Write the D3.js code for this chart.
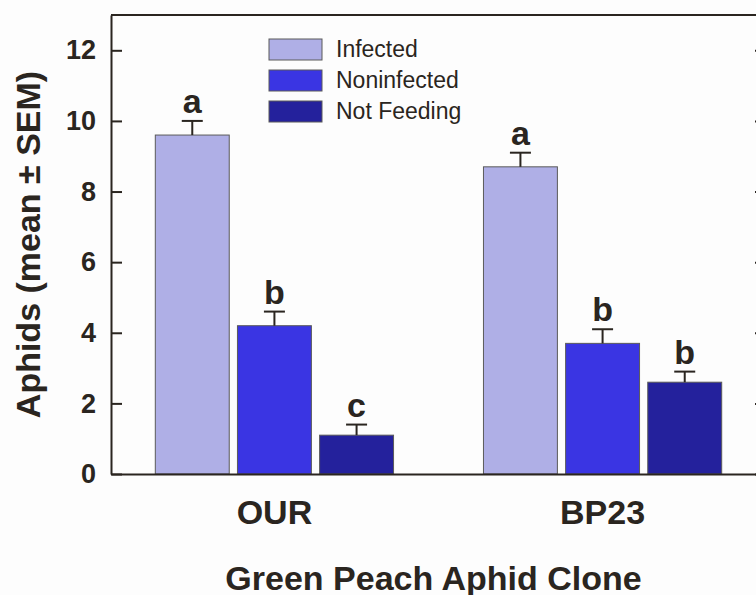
<!DOCTYPE html>
<html>
<head>
<meta charset="utf-8">
<script src="https://cdn.jsdelivr.net/npm/d3@7"></script>
<style>
  body { margin: 0; background: #fdfdfd; }
  svg { display: block; font-family: Arial, "Liberation Sans", sans-serif; }
</style>
</head>
<body>
<div id="chart"></div>
<script>
// data
var clones = ["OUR", "BP23"];
var series = ["Infected", "Noninfected", "Not Feeding"];
var infectedMean = [9.6, 8.7];
var noninfectedMean = [4.2, 3.7];
var notFeedingMean = [1.1, 2.6];
var infectedSem = [0.4, 0.4];
var noninfectedSem = [0.4, 0.4];
var notFeedingSem = [0.3, 0.3];
var infectedLetters = ["a", "a"];
var noninfectedLetters = ["b", "b"];
var notFeedingLetters = ["c", "b"];
var yTicks = [0, 2, 4, 6, 8, 10, 12];

var colors = ["#afafe6", "#3a35e3", "#24219c"];
var ink = "#2a2520";

var svgWidth = 756, svgHeight = 595;
var margin = { top: 15, right: -10, bottom: 121, left: 111 };
var width = svgWidth - margin.left - margin.right;
var height = svgHeight - margin.top - margin.bottom;

var svg = d3.select("#chart").append("svg")
  .attr("width", svgWidth)
  .attr("height", svgHeight);

var g = svg.append("g")
  .attr("transform", `translate(${margin.left}, ${margin.top})`);

// build rows from the arrays
var means = [infectedMean, noninfectedMean, notFeedingMean];
var sems = [infectedSem, noninfectedSem, notFeedingSem];
var letters = [infectedLetters, noninfectedLetters, notFeedingLetters];
var rows = [];
clones.forEach(function(c, ci) {
  series.forEach(function(s, si) {
    rows.push({ clone: c, series: s, si: si, mean: means[si][ci], sem: sems[si][ci], letter: letters[si][ci] });
  });
});

var x0 = d3.scaleBand().domain(clones).range([0, width]).paddingInner(0.274).paddingOuter(0.135);
var x1 = d3.scaleBand().domain(series).range([0, x0.bandwidth()]).paddingInner(0.1).paddingOuter(0);
var y = d3.scaleLinear().domain([0, 13]).range([height, 0]);

// bars
var bars = g.selectAll("g.bar").data(rows).enter().append("g")
  .attr("transform", d => `translate(${x0(d.clone) + x1(d.series)}, 0)`);

bars.append("rect")
  .attr("x", 0)
  .attr("y", d => y(d.mean))
  .attr("width", x1.bandwidth())
  .attr("height", d => y(0) - y(d.mean))
  .attr("fill", d => colors[d.si])
  .attr("stroke", "#5a5a5a")
  .attr("stroke-width", 1);

// error bars (upper only)
var bw = x1.bandwidth();
bars.append("line")
  .attr("x1", bw / 2).attr("x2", bw / 2)
  .attr("y1", d => y(d.mean)).attr("y2", d => y(d.mean + d.sem))
  .attr("stroke", ink).attr("stroke-width", 2);
bars.append("line")
  .attr("x1", bw / 2 - 10.5).attr("x2", bw / 2 + 10.5)
  .attr("y1", d => y(d.mean + d.sem)).attr("y2", d => y(d.mean + d.sem))
  .attr("stroke", ink).attr("stroke-width", 2);

bars.append("text")
  .attr("x", bw / 2)
  .attr("y", d => y(d.mean + d.sem) - 8)
  .attr("text-anchor", "middle")
  .style("font-size", "34px")
  .style("font-weight", "bold")
  .attr("fill", ink)
  .text(d => d.letter);

// axes
var yAxis = g.append("g")
  .call(d3.axisLeft(y).tickValues(yTicks).tickSizeInner(-11).tickSizeOuter(0).tickPadding(15));
yAxis.selectAll("text").style("font-size", "27px").style("font-weight", "bold").attr("fill", ink);

var yAxisRight = g.append("g")
  .attr("transform", `translate(${width}, 0)`)
  .call(d3.axisRight(y).tickValues(yTicks).tickSizeInner(-11).tickSizeOuter(0).tickFormat(""));

var xAxis = g.append("g")
  .attr("transform", `translate(0, ${height})`)
  .call(d3.axisBottom(x0).tickSize(0));
xAxis.selectAll("text")
  .attr("y", 50).attr("dy", 0)
  .style("font-size", "34px").style("font-weight", "bold").attr("fill", ink);

g.selectAll(".domain, .tick line").attr("stroke", ink).attr("stroke-width", 2);

// top frame line
g.append("line")
  .attr("x1", 0).attr("x2", width)
  .attr("y1", 0).attr("y2", 0)
  .attr("stroke", ink).attr("stroke-width", 2);

// axis titles
g.append("text")
  .attr("x", width / 2 - 5)
  .attr("y", height + 116)
  .attr("text-anchor", "middle")
  .style("font-size", "34px").style("font-weight", "bold")
  .attr("fill", ink)
  .text("Green Peach Aphid Clone");

g.append("text")
  .attr("transform", "rotate(-90)")
  .attr("x", -height / 2)
  .attr("y", -71)
  .attr("text-anchor", "middle")
  .style("font-size", "34px").style("font-weight", "bold")
  .attr("fill", ink)
  .text("Aphids (mean \u00b1 SEM)");

// legend
var legend = svg.append("g").attr("transform", "translate(269, 39)");
var items = legend.selectAll("g").data(series).enter().append("g")
  .attr("transform", (d, i) => `translate(0, ${i * 31})`);
items.append("rect")
  .attr("width", 53).attr("height", 21)
  .attr("fill", (d, i) => colors[i])
  .attr("stroke", "#5a5a5a").attr("stroke-width", 1);
items.append("text")
  .attr("x", 67).attr("y", 18)
  .style("font-size", "23px")
  .attr("fill", ink)
  .text(d => d);
</script>
</body>
</html>
